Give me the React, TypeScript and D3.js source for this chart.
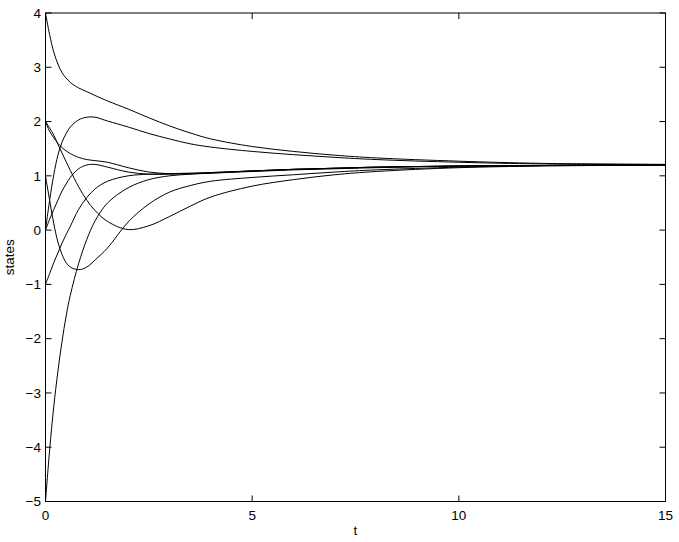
import React from "react";
import * as d3 from "d3";

const T = [0, 0.1, 0.2, 0.3, 0.4, 0.5, 0.6, 0.8, 1.0, 1.2, 1.5, 2.0, 2.5, 3.0, 3.5, 4.0, 5.0, 6.0, 7.0, 8.0, 10.0, 12.0, 15.0];

const s1 = [4.0, 3.6, 3.28, 3.06, 2.9, 2.8, 2.72, 2.62, 2.55, 2.48, 2.38, 2.23, 2.07, 1.92, 1.79, 1.68, 1.54, 1.45, 1.38, 1.33, 1.27, 1.23, 1.21];
const s2 = [0.0, 0.55, 1.02, 1.38, 1.62, 1.78, 1.9, 2.03, 2.08, 2.08, 2.01, 1.9, 1.78, 1.68, 1.59, 1.53, 1.45, 1.39, 1.34, 1.3, 1.25, 1.22, 1.21];
const s3 = [2.0, 1.82, 1.7, 1.6, 1.52, 1.46, 1.41, 1.34, 1.3, 1.28, 1.25, 1.15, 1.07, 1.04, 1.04, 1.05, 1.08, 1.11, 1.13, 1.15, 1.18, 1.19, 1.2];
const s4 = [2.0, 1.88, 1.75, 1.58, 1.42, 1.26, 1.1, 0.8, 0.55, 0.36, 0.16, 0.01, 0.08, 0.25, 0.44, 0.61, 0.81, 0.93, 1.02, 1.08, 1.15, 1.18, 1.2];
const s5 = [1.0, 0.55, 0.12, -0.22, -0.45, -0.6, -0.68, -0.73, -0.68, -0.55, -0.33, 0.15, 0.48, 0.7, 0.82, 0.9, 0.97, 1.02, 1.07, 1.11, 1.16, 1.19, 1.2];
const s6 = [0.0, 0.2, 0.38, 0.55, 0.72, 0.85, 0.97, 1.13, 1.2, 1.21, 1.16, 1.07, 1.03, 1.03, 1.04, 1.06, 1.09, 1.12, 1.14, 1.16, 1.18, 1.19, 1.2];
const s7 = [-1.0, -0.8, -0.6, -0.42, -0.24, -0.08, 0.07, 0.38, 0.6, 0.76, 0.9, 1.0, 1.03, 1.04, 1.05, 1.06, 1.09, 1.12, 1.14, 1.16, 1.18, 1.19, 1.2];
const s8 = [-5.0, -4.05, -3.25, -2.6, -2.05, -1.58, -1.2, -0.62, -0.17, 0.17, 0.5, 0.78, 0.93, 1.0, 1.03, 1.05, 1.09, 1.12, 1.14, 1.16, 1.18, 1.19, 1.2];

const SERIES = [s1, s2, s3, s4, s5, s6, s7, s8];

const X_TICKS = [0, 5, 10, 15];
const Y_TICKS = [-5, -4, -3, -2, -1, 0, 1, 2, 3, 4];

const W = 679;
const H = 542;

export default function App() {
  const x = d3.scaleLinear().domain([0, 15]).range([45.5, 665.5]);
  const y = d3.scaleLinear().domain([-5, 4]).range([501.5, 13]);
  const line = d3
    .line<number>()
    .x((_, i) => x(T[i]))
    .y((d) => y(d))
    .curve(d3.curveCatmullRom.alpha(0.5));

  const [x0, x1] = x.range();
  const [yb, yt] = y.range();
  const font = "'Liberation Sans', Arial, Helvetica, sans-serif";
  const fmt = (v: number) => (v < 0 ? "\u2212" + Math.abs(v) : String(v));

  return (
    <svg
      width={W}
      height={H}
      style={{ position: "absolute", left: 0, top: 0, background: "#fff" }}
      fontFamily={font}
    >
      <rect x={0} y={0} width={W} height={H} fill="#fff" />
      {SERIES.map((s, i) => (
        <path key={i} d={line(s) || ""} fill="none" stroke="#000" strokeWidth={1} />
      ))}
      <rect x={x0} y={yt} width={x1 - x0} height={yb - yt} fill="none" stroke="#000" strokeWidth={1} />
      {X_TICKS.map((t) => (
        <g key={"x" + t}>
          <line x1={x(t)} x2={x(t)} y1={yb} y2={yb - 6} stroke="#000" />
          <line x1={x(t)} x2={x(t)} y1={yt} y2={yt + 6} stroke="#000" />
          <text x={x(t)} y={520} fontSize={13.5} textAnchor="middle" fill="#000">
            {fmt(t)}
          </text>
        </g>
      ))}
      {Y_TICKS.map((v) => (
        <g key={"y" + v}>
          <line x1={x0} x2={x0 + 6} y1={y(v)} y2={y(v)} stroke="#000" />
          <line x1={x1} x2={x1 - 6} y1={y(v)} y2={y(v)} stroke="#000" />
          <text x={41} y={y(v) + 4.8} fontSize={13.5} textAnchor="end" fill="#000">
            {fmt(v)}
          </text>
        </g>
      ))}
      <text x={(x0 + x1) / 2} y={535} fontSize={13.5} textAnchor="middle" fill="#000">
        t
      </text>
      <text
        transform={`translate(14,${(yt + yb) / 2}) rotate(-90)`}
        fontSize={13.5}
        textAnchor="middle"
        fill="#000"
      >
        states
      </text>
    </svg>
  );
}
